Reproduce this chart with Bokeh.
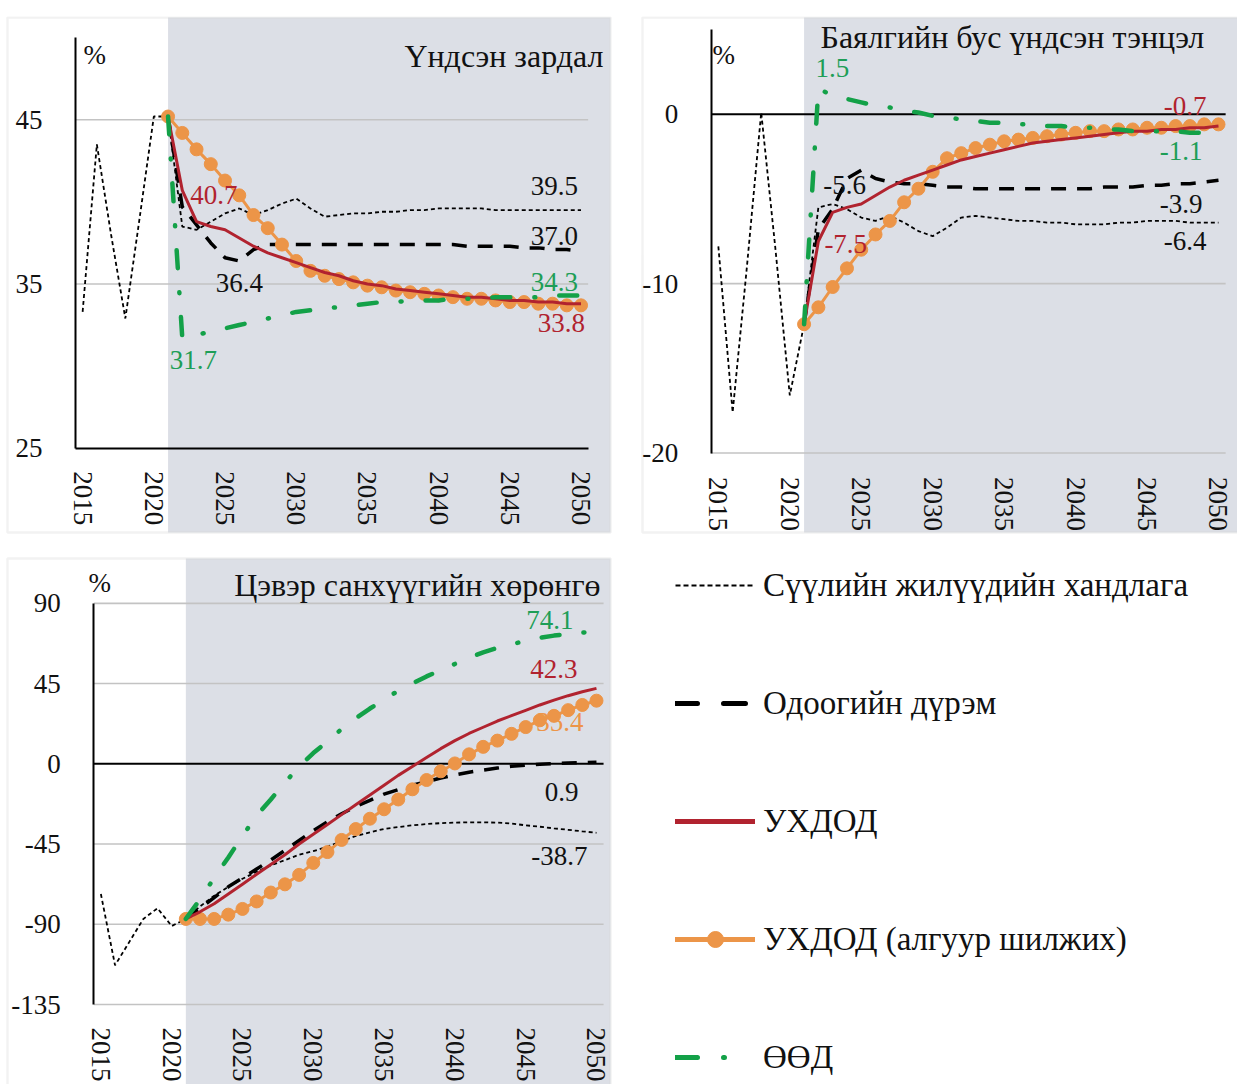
from bokeh.plotting import figure
from bokeh.models import Range1d, LinearAxis, FixedTicker, BoxAnnotation, Legend, LegendItem
from bokeh.core.properties import value
from bokeh.embed import file_html
from bokeh.resources import INLINE

# ---------------- data ----------------
years_all = list(range(2015, 2051))
years_proj = list(range(2021, 2051))
x_ticks = [2015, 2020, 2025, 2030, 2035, 2040, 2045, 2050]

# Panel 1: Үндсэн зардал
p1_title = "Үндсэн зардал"
p1_yticks = [25, 35, 45]
p1_trend = [33.3, 43.5, 38.0, 32.9, 39.0, 45.2, 45.2, 38.5, 38.3, 38.8, 39.3, 39.6, 39.2, 39.5,
            39.9, 40.2, 39.6, 39.1, 39.2, 39.3, 39.3, 39.4, 39.4, 39.5, 39.5, 39.6, 39.6, 39.6,
            39.6, 39.5, 39.5, 39.5, 39.5, 39.5, 39.5, 39.5]
p1_current = [45.2, 39.7, 38.6, 37.5, 36.6, 36.4, 37.1, 37.4, 37.4, 37.4, 37.4, 37.4, 37.4, 37.4,
              37.4, 37.4, 37.4, 37.4, 37.4, 37.4, 37.4, 37.3, 37.3, 37.3, 37.3, 37.2, 37.2, 37.1,
              37.1, 37.0]
p1_red = [45.2, 40.7, 38.8, 38.5, 38.3, 37.8, 37.3, 36.9, 36.6, 36.3, 36.0, 35.7, 35.5, 35.2, 35.0,
          34.9, 34.7, 34.6, 34.5, 34.4, 34.3, 34.2, 34.2, 34.1, 34.0, 34.0, 33.9, 33.9, 33.8, 33.8]
p1_orange = [45.2, 44.2, 43.2, 42.3, 41.3, 40.4, 39.2, 38.4, 37.4, 36.4, 35.8, 35.5, 35.3, 35.1,
             34.9, 34.8, 34.6, 34.5, 34.4, 34.3, 34.2, 34.1, 34.1, 34.0, 33.9, 33.9, 33.8, 33.8,
             33.7, 33.7]
p1_green = [45.2, 31.7, 31.9, 32.1, 32.3, 32.5, 32.7, 32.9, 33.1, 33.3, 33.4, 33.5, 33.6, 33.7,
            33.8, 33.9, 33.9, 34.0, 34.0, 34.0, 34.1, 34.1, 34.1, 34.2, 34.2, 34.2, 34.2, 34.3,
            34.3, 34.3]

# Panel 2: Баялгийн бус үндсэн тэнцэл
p2_title = "Баялгийн бус үндсэн тэнцэл"
p2_yticks = [-20, -10, 0]
p2_trend = [-7.8, -17.6, -9.0, 0.1, -8.0, -16.6, -12.4, -5.5, -5.3, -5.6, -6.1, -6.3, -6.0, -6.4,
            -6.9, -7.2, -6.7, -6.1, -6.0, -6.1, -6.2, -6.3, -6.3, -6.4, -6.4, -6.5, -6.5, -6.5,
            -6.4, -6.4, -6.3, -6.3, -6.3, -6.4, -6.4, -6.4]
p2_current = [-12.4, -6.8, -5.6, -3.8, -3.3, -3.8, -4.0, -4.1, -4.1, -4.2, -4.3, -4.3, -4.4, -4.4,
              -4.4, -4.4, -4.4, -4.4, -4.4, -4.4, -4.4, -4.3, -4.3, -4.3, -4.2, -4.2, -4.1, -4.1,
              -4.0, -3.9]
p2_red = [-12.4, -7.5, -5.8, -5.5, -5.3, -4.8, -4.3, -3.9, -3.6, -3.3, -3.0, -2.7, -2.5, -2.3,
          -2.1, -1.9, -1.7, -1.6, -1.5, -1.4, -1.3, -1.2, -1.1, -1.0, -1.0, -0.9, -0.9, -0.8,
          -0.8, -0.7]
p2_orange = [-12.4, -11.4, -10.2, -9.1, -8.0, -7.1, -6.3, -5.2, -4.4, -3.4, -2.6, -2.3, -2.0, -1.8,
             -1.6, -1.5, -1.4, -1.3, -1.2, -1.1, -1.0, -1.0, -0.9, -0.9, -0.8, -0.8, -0.7, -0.7,
             -0.6, -0.6]
p2_green = [-12.4, 1.5, 1.1, 0.9, 0.7, 0.5, 0.4, 0.2, 0.1, -0.1, -0.2, -0.3, -0.4, -0.5, -0.5,
            -0.6, -0.6, -0.7, -0.7, -0.8, -0.8, -0.9, -0.9, -1.0, -1.0, -1.0, -1.0, -1.1, -1.1,
            -1.1]

# Panel 3: Цэвэр санхүүгийн хөрөнгө
p3_title = "Цэвэр санхүүгийн хөрөнгө"
p3_yticks = [-135, -90, -45, 0, 45, 90]
p3_trend = [-73, -113, -100, -87, -81, -91, -87, -80, -74, -69, -64.5, -60.5, -57, -54, -51, -49,
            -46.5, -43.5, -40.5, -38.5, -36.5, -35.5, -34.5, -33.8, -33.3, -33, -32.8, -32.8,
            -33, -33.5, -34.5, -35.3, -36.2, -37, -37.9, -38.7]
p3_current = [-87, -81, -75, -69, -64, -59, -54, -48.5, -43, -37.5, -32.5, -28, -24, -20.5, -17,
              -14.5, -12, -10, -8, -6.2, -4.7, -3.5, -2.4, -1.4, -0.8, -0.3, 0.1, 0.4, 0.7, 0.9]
p3_red = [-87, -83, -78.5, -73, -67.5, -62, -56.5, -51, -45, -39.5, -34, -28.5, -23, -17.5, -12,
          -6.5, -1.5, 3.5, 8.5, 13, 17, 20.5, 24, 27, 30, 33, 35.7, 38.2, 40.4, 42.3]
p3_orange = [-87, -87, -87, -84.6, -81.4, -77.2, -72.2, -67.6, -62.3, -55.6, -49.5, -42.7, -36.6,
             -30.8, -25.5, -20, -14.3, -9.1, -4.2, 0.2, 5.3, 9.5, 13, 16.8, 20.6, 24.4, 26.9,
             30.1, 33, 35.4]
p3_green = [-87, -76, -64, -52.5, -40.5, -29, -20, -10.5, -1.5, 6, 12.5, 19.5, 25.5, 31, 36, 41,
            45, 49, 52.5, 56, 59.5, 62.5, 65, 67, 69, 70.7, 71.9, 72.9, 73.6, 74.1]

legend_labels = ["Сүүлийн жилүүдийн хандлага", "Одоогийн дүрэм", "УХДОД",
                 "УХДОД (алгуур шилжих)", "ӨӨД"]

# ---------------- style ----------------
FONT = "Liberation Serif"
RED = "#B1232F"
ORANGE = "#EC9548"
GREEN = "#13A148"
GREEN_TXT = "#1E9E57"
SHADE = "#DCDFE6"
GRID = "#C3C3C3"
BORDER = "#D5D5D5"
INK = "#111111"
AX_START, AX_END = 2014.5, 2050.5
PROJ_START = 2021

# one canvas; default ranges are page pixels (y measured from the bottom)
W, H, TOP = 1237, 1084, 16
fig = figure(width=W, height=H, x_range=Range1d(0, W), y_range=Range1d(0, H - TOP),
             x_axis_type=None, y_axis_type=None, title=None, toolbar_location=None,
             output_backend="svg", min_border_left=0, min_border_right=0,
             min_border_top=TOP, min_border_bottom=0)
fig.outline_line_color = None
fig.background_fill_color = "white"
fig.border_fill_color = "white"


def Y(px):
    return H - px


# panel layout: box in page px, and how the panel's scales sit on the page
# (value, pixel, pixels per unit)
panels = {
    "p1": dict(box=(7, 17, 610, 532), ax=(2014.5, 75.0, 14.24), ay=(45, 119.3, 16.42)),
    "p2": dict(box=(642, 17, 1250, 532), ax=(2014.5, 710.7, 14.29), ay=(0, 113.7, 16.94)),
    "p3": dict(box=(7, 558, 610, 1095), ax=(2014.5, 93.3, 14.16), ay=(0, 763.3, 1.783)),
}

xr, yr = {}, {}
for name, spec in panels.items():
    a, A, s = spec["ax"]
    b, B, t = spec["ay"]
    xr[name] = Range1d(a - A / s, a + (W - A) / s)
    yr[name] = Range1d(b - (H - B) / t, b + (B - TOP) / t)
fig.extra_x_ranges = xr
fig.extra_y_ranges = yr


def x_px(name, v):
    a, A, s = panels[name]["ax"]
    return A + (v - a) * s


def make_panel(name, yticks, ybounds, axis_y, x_axis_black, zero_line, x_standoff):
    l, t, r, b = panels[name]["box"]
    fig.add_layout(BoxAnnotation(left=x_px(name, PROJ_START), right=r, top=Y(t), bottom=Y(b),
                                 fill_color=SHADE, fill_alpha=1.0, line_color=None,
                                 level="underlay"))
    fig.add_layout(BoxAnnotation(left=l, right=r, top=Y(t), bottom=Y(b), fill_alpha=0,
                                 line_color=BORDER, line_width=2.5, level="underlay"))
    kw = dict(x_range_name=name, y_range_name=name)
    grid_vals = [v for v in yticks if v != 0 and v != axis_y] + ([axis_y] if not x_axis_black else [])
    fig.segment(x0=[AX_START] * len(grid_vals), x1=[AX_END] * len(grid_vals), y0=grid_vals,
                y1=grid_vals, line_color=GRID, line_width=1.6, **kw)
    if zero_line:
        fig.segment(x0=[AX_START], x1=[AX_END], y0=[0], y1=[0], line_color="black",
                    line_width=2, **kw)
    yax = LinearAxis(fixed_location=AX_START, ticker=FixedTicker(ticks=yticks), bounds=ybounds,
                     axis_line_color="black", axis_line_width=2,
                     major_tick_line_color=None, minor_tick_line_color=None,
                     major_label_standoff=27, major_label_text_font=FONT,
                     major_label_text_font_size="27px", major_label_text_color=INK,
                     major_label_overrides={v: str(v) for v in yticks}, **kw)
    fig.add_layout(yax, "left")
    xax = LinearAxis(fixed_location=axis_y, ticker=FixedTicker(ticks=x_ticks),
                     bounds=(AX_START, AX_END),
                     axis_line_color="black" if x_axis_black else None, axis_line_width=2,
                     major_tick_line_color=None, minor_tick_line_color=None,
                     major_label_orientation="vertical", major_label_standoff=x_standoff,
                     major_label_text_font=FONT, major_label_text_font_size="27px",
                     major_label_text_color=INK, **kw)
    fig.add_layout(xax, "below")


def put_label(name, xs, series, idx, color, align, dx, dy):
    fig.text(x=[xs[idx]], y=[series[idx]], text=[f"{series[idx]:.1f}"], x_offset=dx,
             y_offset=dy, text_align=align, text_baseline="middle", text_font=value(FONT),
             text_font_size=value("27px"), text_color=color, x_range_name=name,
             y_range_name=name)


def draw_series(name, trend, current, red, orange, green, labels_before, labels_after):
    kw = dict(x_range_name=name, y_range_name=name)
    fig.line(years_all, trend, line_color="black", line_width=1.8, line_dash="4 3", **kw)
    fig.line(years_proj, current, line_color="black", line_width=3.5, line_dash="15 11", **kw)
    for lab in labels_before:
        put_label(name, *lab)
    fig.line(years_proj, orange, line_color=ORANGE, line_width=3, **kw)
    fig.scatter(years_proj, orange, size=13, fill_color=ORANGE, line_color=ORANGE, **kw)
    fig.line(years_proj, red, line_color=RED, line_width=3, **kw)
    fig.line(years_proj, green, line_color=GREEN, line_width=4.5, line_dash="18 24 1 24",
             line_cap="round", **kw)
    for lab in labels_after:
        put_label(name, *lab)


def put_text(x, y, txt, align, size):
    fig.text(x=[x], y=[Y(y)], text=[txt], text_align=align, text_baseline="middle",
             text_font=value(FONT), text_font_size=value(size), text_color=INK)


# ---------------- panel 1 ----------------
make_panel("p1", p1_yticks, (25, 50), 25, True, False, 17)
draw_series("p1", p1_trend, p1_current, p1_red, p1_orange, p1_green, [],
            [(years_all, p1_trend, -1, INK, "right", -3, -24),
             (years_proj, p1_current, -1, INK, "right", -3, -15),
             (years_proj, p1_green, -1, GREEN_TXT, "right", -3, -13),
             (years_proj, p1_red, -1, RED, "right", 4, 19),
             (years_proj, p1_red, 1, RED, "left", 8, 5),
             (years_proj, p1_current, 5, INK, "center", 0, 22),
             (years_proj, p1_green, 1, GREEN_TXT, "center", 11, 22)])
put_text(603, 55, p1_title, "right", "32px")
put_text(83, 54, "%", "left", "27px")

# ---------------- panel 2 ----------------
make_panel("p2", p2_yticks, (-20, 5), -20, False, True, 18)
draw_series("p2", p2_trend, p2_current, p2_red, p2_orange, p2_green, [],
            [(years_proj, p2_green, 1, GREEN_TXT, "center", 14, -21),
             (years_proj, p2_current, 2, INK, "center", 12, -24),
             (years_proj, p2_red, 1, RED, "left", 6, 3),
             (years_proj, p2_red, -1, RED, "right", -12, -20),
             (years_proj, p2_green, -1, GREEN_TXT, "right", -16, 18),
             (years_proj, p2_current, -1, INK, "right", -16, 24),
             (years_all, p2_trend, -1, INK, "right", -12, 18)])
put_text(820, 36, p2_title, "left", "32px")
put_text(712, 54, "%", "left", "27px")

# ---------------- panel 3 ----------------
make_panel("p3", p3_yticks, (-135, 90), -135, False, True, 17)
draw_series("p3", p3_trend, p3_current, p3_red, p3_orange, p3_green,
            [(years_proj, p3_orange, -1, ORANGE, "right", -13, 21)],
            [(years_proj, p3_green, -1, GREEN_TXT, "right", -23, -12),
             (years_proj, p3_red, -1, RED, "right", -19, -19),
             (years_proj, p3_current, -1, INK, "right", -18, 30),
             (years_all, p3_trend, -1, INK, "right", -9, 23)])
put_text(600, 584, p3_title, "right", "32px")
put_text(88, 582, "%", "left", "27px")

# ---------------- legend ----------------
# legend proxies: their points lie outside the visible canvas
proxy_x = [-10, -9]
proxy_y = [-10, -9]
r_trend = fig.line(proxy_x, proxy_y, line_color="black", line_width=2, line_dash="5 3")
r_cur = fig.line(proxy_x, proxy_y, line_color="black", line_width=5, line_dash="22 26",
                 line_cap="round")
r_red = fig.line(proxy_x, proxy_y, line_color=RED, line_width=5, line_cap="round")
r_or_l = fig.line(proxy_x, proxy_y, line_color=ORANGE, line_width=5, line_cap="round")
r_or_m = fig.scatter(proxy_x, proxy_y, size=14, fill_color=ORANGE, line_color=ORANGE)
r_green = fig.line(proxy_x, proxy_y, line_color=GREEN, line_width=5, line_dash="22 26 1 80",
                   line_cap="round")
legend = Legend(items=[LegendItem(label=legend_labels[0], renderers=[r_trend]),
                       LegendItem(label=legend_labels[1], renderers=[r_cur]),
                       LegendItem(label=legend_labels[2], renderers=[r_red]),
                       LegendItem(label=legend_labels[3], renderers=[r_or_l, r_or_m]),
                       LegendItem(label=legend_labels[4], renderers=[r_green])],
                location=(675, 7), glyph_width=80, glyph_height=40, label_height=40,
                spacing=78, label_standoff=8, label_text_font=FONT,
                label_text_font_size="33px", label_text_color=INK, padding=0, margin=0,
                border_line_color=None, background_fill_alpha=0)
fig.add_layout(legend)

open("out.html", "w").write(file_html(fig, INLINE, "chart"))
